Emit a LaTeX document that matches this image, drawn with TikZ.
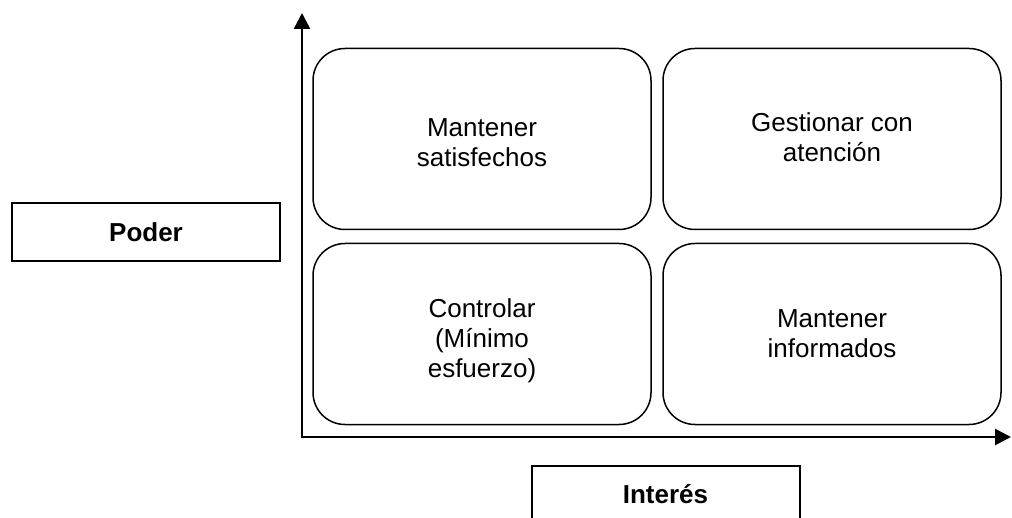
\documentclass[tikz,border=0pt]{standalone}
\usepackage{fontspec}
\setmainfont{Liberation Sans}
\usetikzlibrary{positioning}
\usetikzlibrary{arrows.meta}
\tikzset{basic/.style={draw,line width=1.5pt,align=center,font=\fontsize{26}{30}\selectfont}}
\tikzset{quadrant/.style={basic,rounded corners=32pt,minimum width=338pt,minimum height=181pt}}
\tikzset{quadtext/.style={align=center,font=\fontsize{26}{30}\selectfont}}
\tikzset{axislabel/.style={basic,line width=2pt,minimum width=268pt,minimum height=58pt,font=\fontsize{26}{30}\selectfont\bfseries}}
\tikzset{axis/.style={line width=2.5pt,<->,>={Triangle[length=16pt,width=16pt]}}}

\begin{document}
\begin{tikzpicture}[x=1pt,y=-1pt]
        \clip (0,0) rectangle (1012,518);
        \node[quadrant] (satisfechos) at (482,139) {};
        \node[quadrant,right=10.5pt of satisfechos] (atencion) {};
        \node[quadrant,below=12.5pt of satisfechos] (controlar) {};
        \node[quadrant,below=12.5pt of atencion] (informados) {};
        \node[quadtext] (satisfechos-t) at ([yshift=-4pt]satisfechos.center) {Mantener\\satisfechos};
        \node[quadtext] (atencion-t) at ([yshift=2pt]atencion.center) {Gestionar con\\atención};
        \node[quadtext] (controlar-t) at ([yshift=-7pt]controlar.center) {Controlar\\(Mínimo\\esfuerzo)};
        \node[quadtext] (informados-t) at (informados.center) {Mantener\\informados};

        \coordinate (origin) at (302,437);
        \coordinate (ytip) at (302,13);
        \coordinate (xtip) at (1011,437);
            \draw[axis] (ytip) -- (origin) -- (xtip);

        \node[axislabel] (poder) at (146,232) {Poder};
        \node[axislabel,minimum height=56pt] (interes) at (665.5,494) {Interés};
    \end{tikzpicture}
\end{document}
